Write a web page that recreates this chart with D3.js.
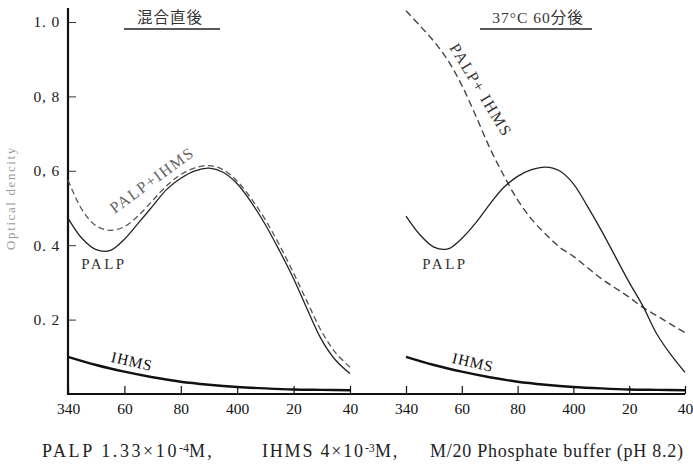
<!DOCTYPE html>
<html><head><meta charset="utf-8">
<script src="https://cdn.jsdelivr.net/npm/d3@7/dist/d3.min.js"></script>
<style>
body{margin:0;background:#fff;}
svg{display:block;}
text{font-family:"Liberation Serif","DejaVu Serif",serif;}
text.cjk{font-family:"Liberation Serif","Noto Sans CJK JP",serif;}
</style></head>
<body><svg id="c" width="693" height="467"></svg>
<script>
// ---- data ----
const wavelengths = [340,345,350,355,360,365,370,375,380,385,390,395,400,405,410,415,420,425,430,435,440];
const leftPALP   = [0.473,0.418,0.388,0.386,0.416,0.460,0.505,0.550,0.580,0.600,0.607,0.596,0.565,0.515,0.455,0.385,0.310,0.225,0.145,0.090,0.055];
const leftMix    = [0.575,0.495,0.452,0.440,0.450,0.480,0.520,0.560,0.590,0.608,0.614,0.603,0.572,0.525,0.468,0.400,0.325,0.245,0.167,0.110,0.072];
const rightPALP  = [0.478,0.428,0.395,0.390,0.418,0.460,0.510,0.555,0.585,0.603,0.610,0.600,0.565,0.505,0.440,0.370,0.300,0.235,0.160,0.105,0.058];
const rightMix   = [1.030,0.990,0.948,0.897,0.830,0.748,0.662,0.588,0.522,0.470,0.430,0.395,0.370,0.340,0.310,0.285,0.260,0.232,0.210,0.187,0.165];
const ihmsWl     = [340,350,360,370,380,390,400,410,420,430,440];
const leftIHMS   = [0.100,0.078,0.060,0.045,0.033,0.025,0.019,0.015,0.012,0.011,0.010];
const rightIHMS  = [0.100,0.078,0.060,0.045,0.033,0.025,0.019,0.015,0.012,0.011,0.010];
const xTickValues = [340,360,380,400,420,440];
const xTickLabels = ["340","60","80","400","20","40"];
const yTickValues = [0.2,0.4,0.6,0.8,1.0];
const yTickLabels = ["0. 2","0. 4","0, 6","0, 8","1. 0"];
const titles = ["混合直後","37°C 60分後"];

const svg = d3.select("#c");
const xL = d3.scaleLinear().domain([340,440]).range([68,350]);
const xR = d3.scaleLinear().domain([340,440]).range([406,685]);
const y = d3.scaleLinear().domain([0,1]).range([394,22]);

// axes
function xAxis(sc){
  return d3.axisBottom(sc).tickValues(xTickValues).tickSizeInner(-8).tickSizeOuter(0).tickPadding(9)
    .tickFormat((d,i)=>xTickLabels[i]);
}
[xL,xR].forEach(sc=>{
  const g = svg.append("g").attr("transform","translate(0,394)").call(xAxis(sc));
  g.select(".domain").remove();
  g.selectAll(".tick line").attr("stroke","#111").attr("stroke-width",1.2);
  g.selectAll(".tick text").attr("font-size",15.5).attr("fill","#111");
});
svg.append("line").attr("x1",xL(340)).attr("x2",xR(440)).attr("y1",394).attr("y2",394)
  .attr("stroke","#111").attr("stroke-width",2.2);

const yAxis = d3.axisLeft(y).tickValues(yTickValues).tickSizeInner(-8).tickSizeOuter(0).tickPadding(8)
  .tickFormat((d,i)=>yTickLabels[i]);
const gy = svg.append("g").attr("transform","translate(68,0)").call(yAxis);
gy.select(".domain").remove();
gy.selectAll(".tick line").attr("stroke","#333").attr("stroke-width",1);
gy.selectAll(".tick text").attr("font-size",15.5).attr("fill","#222").attr("letter-spacing",0.8);
svg.append("line").attr("x1",68).attr("x2",68).attr("y1",8).attr("y2",395)
  .attr("stroke","#111").attr("stroke-width",2.2);

// y label
svg.append("text").attr("transform","translate(15,198) rotate(-90)").attr("text-anchor","middle")
  .attr("font-size",13).attr("fill","#999").attr("letter-spacing",1.6).text("Optical dencity");

// titles
const titleX = [170, 538];
const ulines = [[124,220],[480,592]];
titles.forEach((t,i)=>{
  svg.append("text").attr("class","cjk").attr("x",titleX[i]).attr("y",23).attr("text-anchor","middle")
    .attr("font-size",15.5).attr("fill","#333").attr("letter-spacing",1)
    .text(t);
  svg.append("line").attr("x1",ulines[i][0]).attr("x2",ulines[i][1]).attr("y1",29).attr("y2",29)
    .attr("stroke","#222").attr("stroke-width",1.3);
});

// curves
function draw(xs, wl, vals, opts){
  const line = d3.line().x((d,i)=>xs(wl[i])).y(d=>y(d)).curve(d3.curveCatmullRom.alpha(0.5));
  svg.append("path").datum(vals).attr("d",line).attr("fill","none")
    .attr("stroke",opts.c).attr("stroke-width",opts.w)
    .attr("stroke-dasharray",opts.dash||null);
}
draw(xL, wavelengths, leftMix, {c:"#555",w:1.3,dash:"6,3.5"});
draw(xL, wavelengths, leftPALP, {c:"#222",w:1.3});
draw(xL, ihmsWl, leftIHMS, {c:"#111",w:2.4});
draw(xR, wavelengths, rightMix, {c:"#444",w:1.4,dash:"7,4"});
draw(xR, wavelengths, rightPALP, {c:"#222",w:1.3});
draw(xR, ihmsWl, rightIHMS, {c:"#111",w:2.4});

// curve labels
function lab(x,yy,rot,t,opts={}){
  svg.append("text").attr("transform",`translate(${x},${yy}) rotate(${rot})`)
    .attr("text-anchor","middle").attr("dominant-baseline","central")
    .attr("font-size",opts.fs||15).attr("fill",opts.c||"#333")
    .attr("letter-spacing",opts.ls||0.5).text(t);
}
lab(152,180,-36,"PALP+IHMS",{c:"#666",fs:16,ls:1.5});
lab(104,264,0,"PALP",{c:"#333",fs:15,ls:2.5});
lab(132,361,13,"IHMS",{c:"#111",fs:15.5,ls:0.8});
lab(481,90,59,"PALP+ IHMS",{c:"#333",fs:16,ls:1.5});
lab(445,264,0,"PALP",{c:"#333",fs:15,ls:2.5});
lab(473,362,13,"IHMS",{c:"#111",fs:15.5,ls:0.8});

// caption
const cap = svg.append("text").attr("y",457).attr("font-size",18).attr("fill","#222");
cap.append("tspan").attr("x",42).attr("letter-spacing",2.6).text("PALP 1.33×10");
cap.append("tspan").attr("dy",-5).attr("font-size",12).text("-4");
cap.append("tspan").attr("dy",5).attr("letter-spacing",2.2).text("M,");
cap.append("tspan").attr("x",262).attr("letter-spacing",1.8).text("IHMS 4×10");
cap.append("tspan").attr("dy",-5).attr("font-size",12).text("-3");
cap.append("tspan").attr("dy",5).attr("letter-spacing",1.8).text("M,");
cap.append("tspan").attr("x",430).attr("letter-spacing",0.75).text("M/20 Phosphate buffer (pH 8.2)");
</script></body></html>
